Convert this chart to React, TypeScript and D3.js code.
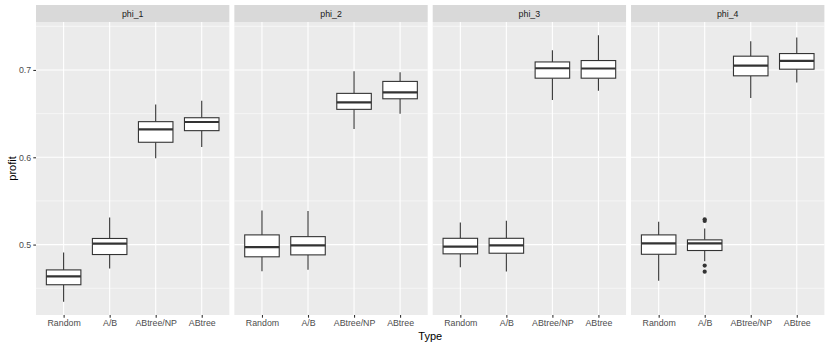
import React, { useEffect, useRef } from 'react';
import * as d3 from 'd3';

// categories and facets
const types = ['Random', 'A/B', 'ABtree/NP', 'ABtree'];
const facets = ['phi_1', 'phi_2', 'phi_3', 'phi_4'];

// per facet, per type: [lower whisker, q1, median, q3, upper whisker]
const phi1Stats = [
  [0.4346, 0.454, 0.4635, 0.471, 0.491],
  [0.4726, 0.4886, 0.501, 0.507, 0.531],
  [0.599, 0.6172, 0.632, 0.6408, 0.6606],
  [0.6119, 0.6305, 0.6404, 0.6453, 0.6647],
];
const phi2Stats = [
  [0.4695, 0.486, 0.497, 0.5111, 0.539],
  [0.4711, 0.4882, 0.4992, 0.5091, 0.5385],
  [0.6324, 0.6549, 0.6629, 0.6732, 0.6986],
  [0.6499, 0.667, 0.6743, 0.6869, 0.6975],
];
const phi3Stats = [
  [0.4741, 0.4894, 0.4977, 0.5072, 0.5254],
  [0.4692, 0.4901, 0.4992, 0.5072, 0.5274],
  [0.6655, 0.6906, 0.702, 0.7092, 0.7226],
  [0.6761, 0.6906, 0.7017, 0.7108, 0.7397],
];
const phi4Stats = [
  [0.4586, 0.4889, 0.5015, 0.5111, 0.5262],
  [0.481, 0.4932, 0.5015, 0.5054, 0.5183],
  [0.6678, 0.6933, 0.7051, 0.7158, 0.7329],
  [0.6857, 0.7009, 0.7104, 0.7188, 0.7371],
];
const allStats = [phi1Stats, phi2Stats, phi3Stats, phi4Stats];

// outliers: [facet index, type index, value]
const outliers = [
  [3, 1, 0.529],
  [3, 1, 0.527],
  [3, 1, 0.476],
  [3, 1, 0.469],
];

const yTicks = [0.5, 0.6, 0.7];
const yMinor = [0.45, 0.55, 0.65, 0.75];

const width = 830;
const height = 346;

const App = () => {
  const svgRef = useRef<SVGSVGElement>(null);

  const margin = { top: 22, right: 5.6, bottom: 31, left: 36 };
  const stripH = 17;
  const gap = 5;
  const innerWidth = width - margin.left - margin.right;
  const innerHeight = height - margin.top - margin.bottom;
  const panelW = (innerWidth - gap * 3) / 4;

  useEffect(() => {
    const svg = d3.select(svgRef.current);
    svg.selectAll('*').remove();

    const allVals = allStats.flat(2).concat(outliers.map(d => d[2]));
    const lo = d3.min(allVals)!;
    const hi = d3.max(allVals)!;
    const pad = (hi - lo) * 0.05;

    const yScale = d3.scaleLinear()
      .domain([lo - pad, hi + pad])
      .range([margin.top + innerHeight, margin.top]);

    const xScale = d3.scalePoint<string>()
      .domain(types)
      .range([0, panelW])
      .padding(0.6);
    const boxW = xScale.step() * 0.75;

    facets.forEach((name, fi) => {
      const px = margin.left + fi * (panelW + gap);
      const g = svg.append('g').attr('transform', `translate(${px},0)`);

      // panel
      g.append('rect')
        .attr('x', 0).attr('y', margin.top)
        .attr('width', panelW).attr('height', innerHeight)
        .attr('fill', '#EBEBEB');

      // strip
      g.append('rect')
        .attr('x', 0).attr('y', margin.top - stripH)
        .attr('width', panelW).attr('height', stripH)
        .attr('fill', '#D9D9D9');
      g.append('text')
        .attr('x', panelW / 2)
        .attr('y', margin.top - stripH / 2)
        .attr('dy', '0.35em')
        .attr('text-anchor', 'middle')
        .attr('font-size', 8.8)
        .attr('fill', '#1A1A1A')
        .text(name);

      // grid
      yMinor.forEach(v => {
        const y = yScale(v);
        if (y < margin.top || y > margin.top + innerHeight) return;
        g.append('line')
          .attr('x1', 0).attr('x2', panelW)
          .attr('y1', y).attr('y2', y)
          .attr('stroke', '#fff').attr('stroke-width', 0.55);
      });
      yTicks.forEach(v => {
        g.append('line')
          .attr('x1', 0).attr('x2', panelW)
          .attr('y1', yScale(v)).attr('y2', yScale(v))
          .attr('stroke', '#fff').attr('stroke-width', 1.1);
      });
      types.forEach(t => {
        g.append('line')
          .attr('x1', xScale(t)!).attr('x2', xScale(t)!)
          .attr('y1', margin.top).attr('y2', margin.top + innerHeight)
          .attr('stroke', '#fff').attr('stroke-width', 1.1);
      });

      // boxes
      allStats[fi].forEach((s, ti) => {
        const cx = xScale(types[ti])!;
        const [wlo, q1, med, q3, whi] = s;
        g.append('line')
          .attr('x1', cx).attr('x2', cx)
          .attr('y1', yScale(whi)).attr('y2', yScale(q3))
          .attr('stroke', '#333333').attr('stroke-width', 1.1);
        g.append('line')
          .attr('x1', cx).attr('x2', cx)
          .attr('y1', yScale(q1)).attr('y2', yScale(wlo))
          .attr('stroke', '#333333').attr('stroke-width', 1.1);
        g.append('rect')
          .attr('x', cx - boxW / 2).attr('y', yScale(q3))
          .attr('width', boxW).attr('height', yScale(q1) - yScale(q3))
          .attr('fill', '#fff')
          .attr('stroke', '#333333').attr('stroke-width', 1.1);
        g.append('line')
          .attr('x1', cx - boxW / 2).attr('x2', cx + boxW / 2)
          .attr('y1', yScale(med)).attr('y2', yScale(med))
          .attr('stroke', '#333333').attr('stroke-width', 2.2);
      });

      outliers.filter(o => o[0] === fi).forEach(o => {
        g.append('circle')
          .attr('cx', xScale(types[o[1]])!)
          .attr('cy', yScale(o[2]))
          .attr('r', 2.1)
          .attr('fill', '#333333');
      });

      // x axis
      const xAxis = d3.axisBottom(xScale).tickSize(2.7).tickPadding(2.2);
      const ax = g.append('g')
        .attr('transform', `translate(0,${margin.top + innerHeight})`)
        .call(xAxis);
      ax.select('.domain').remove();
      ax.selectAll('line').attr('stroke', '#333333').attr('stroke-width', 1.1);
      ax.selectAll('text')
        .attr('fill', '#4D4D4D')
        .attr('font-size', 8.8)
        .attr('font-family', 'Liberation Sans, Arial, sans-serif');
    });

    // y axis
    const yAxis = d3.axisLeft(yScale).tickValues(yTicks).tickSize(2.7).tickPadding(2.2)
      .tickFormat(d3.format('.1f'));
    const ay = svg.append('g')
      .attr('transform', `translate(${margin.left},0)`)
      .call(yAxis);
    ay.select('.domain').remove();
    ay.selectAll('line').attr('stroke', '#333333').attr('stroke-width', 1.1);
    ay.selectAll('text')
      .attr('fill', '#4D4D4D')
      .attr('font-size', 8.8)
      .attr('font-family', 'Liberation Sans, Arial, sans-serif');

    // axis titles
    svg.append('text')
      .attr('x', margin.left + innerWidth / 2)
      .attr('y', height - 6.5)
      .attr('text-anchor', 'middle')
      .attr('font-size', 11)
      .attr('fill', '#000')
      .text('Type');

    svg.append('text')
      .attr('transform', `translate(15.5,${margin.top + innerHeight / 2}) rotate(-90)`)
      .attr('text-anchor', 'middle')
      .attr('font-size', 11)
      .attr('fill', '#000')
      .text('profit');
  }, []);

  return (
    <svg
      ref={svgRef}
      width={width}
      height={height}
      style={{ position: 'absolute', left: 0, top: 0, background: '#fff' }}
      fontFamily="Liberation Sans, Arial, sans-serif"
    />
  );
};

export default App;
